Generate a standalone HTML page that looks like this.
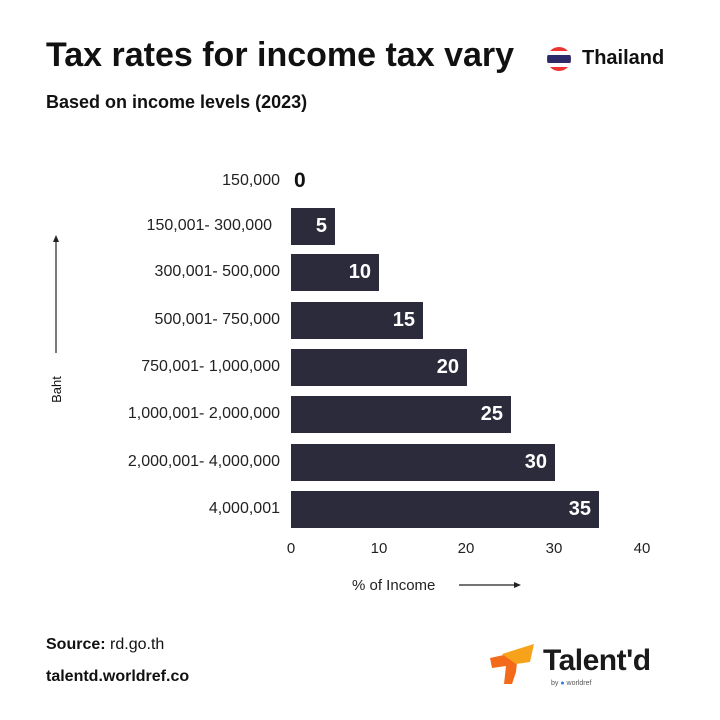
<!DOCTYPE html><html><head><style>
body{margin:0;width:720px;height:720px;background:#fff;font-family:"Liberation Sans",sans-serif;color:#111;position:relative;overflow:hidden}
.a{position:absolute;white-space:nowrap}
.lab{position:absolute;right:440px;font-size:16px;color:#222;text-align:right;transform:translateY(-50%)}
.bar{position:absolute;left:291px;height:37px;background:#2c2b3c;color:#fff;font-weight:bold;font-size:20px;text-align:right;box-sizing:border-box;padding-right:8px;line-height:37px}
.tk{position:absolute;top:540px;font-size:15px;color:#222;transform:translateX(-50%)}
</style></head><body>
<div class="a" style="left:46px;top:36px;font-size:34px;font-weight:bold;letter-spacing:0px">Tax rates for income tax vary</div>
<div class="a" style="left:46px;top:92px;font-size:18px;font-weight:bold">Based on income levels (2023)</div>
<svg class="a" style="left:546px;top:46px" width="26" height="26" viewBox="0 0 26 26"><defs><clipPath id="c"><circle cx="13" cy="13" r="12"/></clipPath></defs><g clip-path="url(#c)"><rect width="26" height="26" fill="#e33"/><rect y="5" width="26" height="16" fill="#fff"/><rect y="9" width="26" height="8" fill="#2d2a6a"/></g></svg>
<div class="a" style="left:582px;top:47px;font-size:20px;font-weight:bold">Thailand</div>

<div class="lab" style="top:181px">150,000</div>
<div class="lab" style="top:226px;right:448px">150,001- 300,000</div>
<div class="lab" style="top:272px">300,001- 500,000</div>
<div class="lab" style="top:320px">500,001- 750,000</div>
<div class="lab" style="top:367px">750,001- 1,000,000</div>
<div class="lab" style="top:414px">1,000,001- 2,000,000</div>
<div class="lab" style="top:462px">2,000,001- 4,000,000</div>
<div class="lab" style="top:509px">4,000,001</div>

<div class="a" style="left:294px;top:169px;font-size:21px;font-weight:bold">0</div>
<div class="bar" style="top:208px;width:44px">5</div>
<div class="bar" style="top:254px;width:88px">10</div>
<div class="bar" style="top:302px;width:132px">15</div>
<div class="bar" style="top:349px;width:176px">20</div>
<div class="bar" style="top:396px;width:220px">25</div>
<div class="bar" style="top:444px;width:264px">30</div>
<div class="bar" style="top:491px;width:308px">35</div>

<div class="tk" style="left:291px">0</div><div class="tk" style="left:379px">10</div><div class="tk" style="left:466px">20</div><div class="tk" style="left:554px">30</div><div class="tk" style="left:642px">40</div>

<svg class="a" style="left:50px;top:235px" width="12" height="120"><line x1="6" y1="4" x2="6" y2="118" stroke="#222" stroke-width="1.2"/><path d="M3,7 L6,0 L9,7Z" fill="#222"/></svg>
<div class="a" style="left:43px;top:382px;font-size:13px;transform:rotate(-90deg);transform-origin:center">Baht</div>
<div class="a" style="left:352px;top:577px;font-size:15px;color:#222">% of Income</div>
<svg class="a" style="left:459px;top:580px" width="62" height="10"><line x1="0" y1="5" x2="56" y2="5" stroke="#222" stroke-width="1.2"/><path d="M55,2 L62,5 L55,8Z" fill="#222"/></svg>

<div class="a" style="left:46px;top:636px;font-size:16px"><b>Source:</b> rd.go.th</div>
<div class="a" style="left:46px;top:668px;font-size:16px;font-weight:bold">talentd.worldref.co</div>

<svg class="a" style="left:488px;top:642px" width="52" height="44"><path d="M2,16 L30,10 L28,30 L24,42 L16,42 L18,24 L4,26Z" fill="#f36a1a"/><path d="M14,12 L46,2 L42,20 L28,22Z" fill="#f7a21b"/></svg>
<div class="a" style="left:543px;top:644px;font-size:30px;font-weight:bold;color:#1a1a1a;letter-spacing:-0.5px">Talent'd</div>
<div class="a" style="left:551px;top:680px;font-size:7px;color:#555">by <span style="color:#2a7be0">●</span> worldref</div>
</body></html>
